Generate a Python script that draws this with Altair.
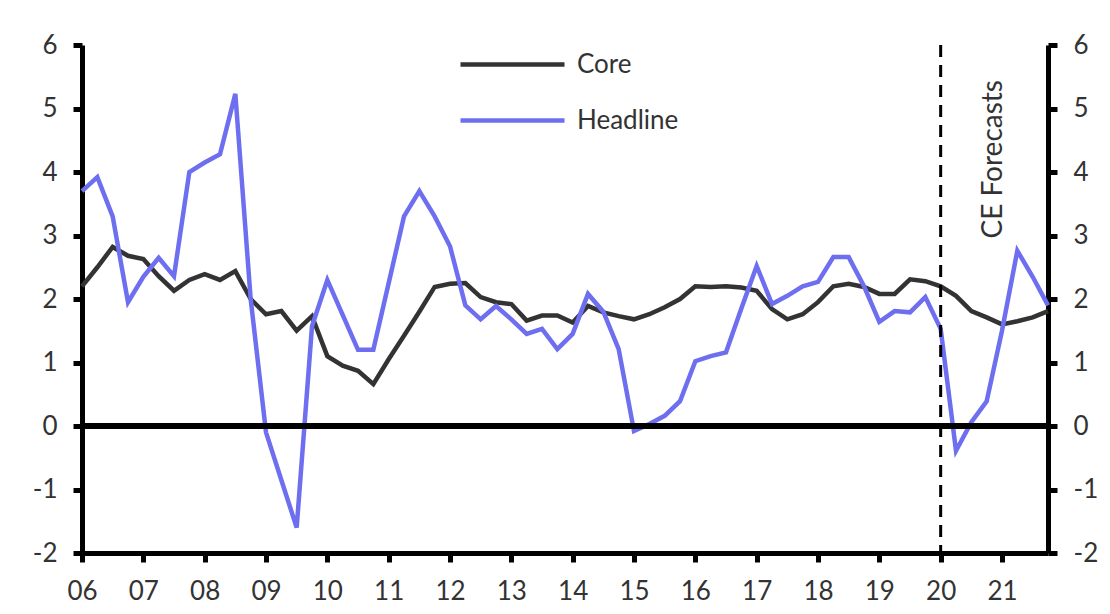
import altair as alt
import pandas as pd

quarters = [2006 + i * 0.25 for i in range(64)]

core = [2.2, 2.5, 2.82, 2.68, 2.63, 2.36, 2.13, 2.3, 2.39, 2.3, 2.44, 2.0,
        1.76, 1.81, 1.5, 1.73, 1.1, 0.95, 0.87, 0.66, 1.05, 1.42, 1.8, 2.19,
        2.24, 2.25, 2.03, 1.95, 1.92, 1.66, 1.74, 1.74, 1.63, 1.89, 1.79, 1.73,
        1.68, 1.76, 1.87, 2.0, 2.2, 2.19, 2.2, 2.18, 2.13, 1.84, 1.68, 1.76,
        1.95, 2.2, 2.24, 2.19, 2.08, 2.08, 2.31, 2.28, 2.2, 2.05, 1.81, 1.71,
        1.6, 1.65, 1.71, 1.81]

headline = [3.7, 3.92, 3.3, 1.95, 2.35, 2.65, 2.36, 4.0, 4.15, 4.28, 5.23, 2.0,
            -0.1, -0.85, -1.6, 1.57, 2.3, 1.75, 1.2, 1.2, 2.25, 3.3, 3.7, 3.3,
            2.83, 1.9, 1.68, 1.89, 1.68, 1.45, 1.53, 1.21, 1.45, 2.08, 1.8, 1.21,
            -0.08, 0.03, 0.16, 0.39, 1.02, 1.1, 1.16, 1.85, 2.52, 1.92, 2.05, 2.2,
            2.27, 2.66, 2.66, 2.2, 1.64, 1.81, 1.79, 2.03, 1.53, -0.39, 0.06, 0.39,
            1.5, 2.76, 2.35, 1.9]

series_names = ["Core", "Headline"]
series_colors = ["#333333", "#6E6EF0"]
year_ticks = list(range(2006, 2022))
y_ticks = list(range(-2, 7))
forecast_start = 2020
forecast_label = "CE Forecasts"

df = pd.DataFrame({
    "date": quarters * 2,
    "value": core + headline,
    "series": ["Core"] * len(core) + ["Headline"] * len(headline),
})

FONT = "Lato"
x_scale = alt.Scale(domain=[2006, 2021.75], nice=False, zero=False)
y_scale = alt.Scale(domain=[-2, 6], nice=False)

axis_common = dict(
    title=None, grid=False, domainColor="black", domainWidth=5,
    tickColor="black", tickWidth=5, tickSize=9, labelFontSize=26,
    labelColor="#333333", labelFont=FONT, labelFlush=False,
)

x_axis = alt.Axis(values=year_ticks, format="d",
                  labelExpr="slice(toString(datum.value), 2)",
                  labelPadding=16, **axis_common)

def y_axis(orient):
    return alt.Axis(values=y_ticks, orient=orient, labelPadding=16,
                    labelExpr="toString(datum.value)", **axis_common)

lines = alt.Chart(df).mark_line(strokeWidth=4.5).encode(
    x=alt.X("date:Q", scale=x_scale, axis=x_axis),
    y=alt.Y("value:Q", scale=y_scale, axis=y_axis("left")),
    color=alt.Color("series:N",
                    scale=alt.Scale(domain=series_names, range=series_colors),
                    legend=alt.Legend(orient="none", legendX=415, legendY=4,
                                      padding=0, title=None,
                                      symbolType="M-4,0H4",
                                      symbolSize=676, symbolStrokeWidth=4.5,
                                      labelFontSize=26, labelFont=FONT,
                                      labelColor="#333333", rowPadding=27,
                                      labelOffset=49)),
)

zero = alt.Chart(pd.DataFrame({"v": [0]})).mark_rule(
    color="black", strokeWidth=6).encode(
    y=alt.Y("v:Q", scale=y_scale, axis=y_axis("right")),
)

vline = alt.Chart(pd.DataFrame({"d": [forecast_start]})).mark_rule(
    color="black", strokeWidth=3, strokeDash=[12, 8]).encode(
    x=alt.X("d:Q", scale=x_scale, axis=x_axis),
)

label = alt.Chart(pd.DataFrame({"d": [2020.87], "v": [4.2], "t": [forecast_label]})).mark_text(
    angle=270, fontSize=28, font=FONT, color="#333333").encode(
    x=alt.X("d:Q", scale=x_scale, axis=x_axis),
    y=alt.Y("v:Q", scale=y_scale, axis=None),
    text="t:N",
)

chart = alt.layer(lines, zero, vline, label).resolve_axis(y="independent").properties(
    width=966, height=508,
    autosize=alt.AutoSizeParams(type="none"),
    padding={"left": 74, "top": 37, "right": 54, "bottom": 53},
).configure_view(strokeWidth=0)

chart.save("out.html", embed_options={"renderer": "svg", "actions": False})
